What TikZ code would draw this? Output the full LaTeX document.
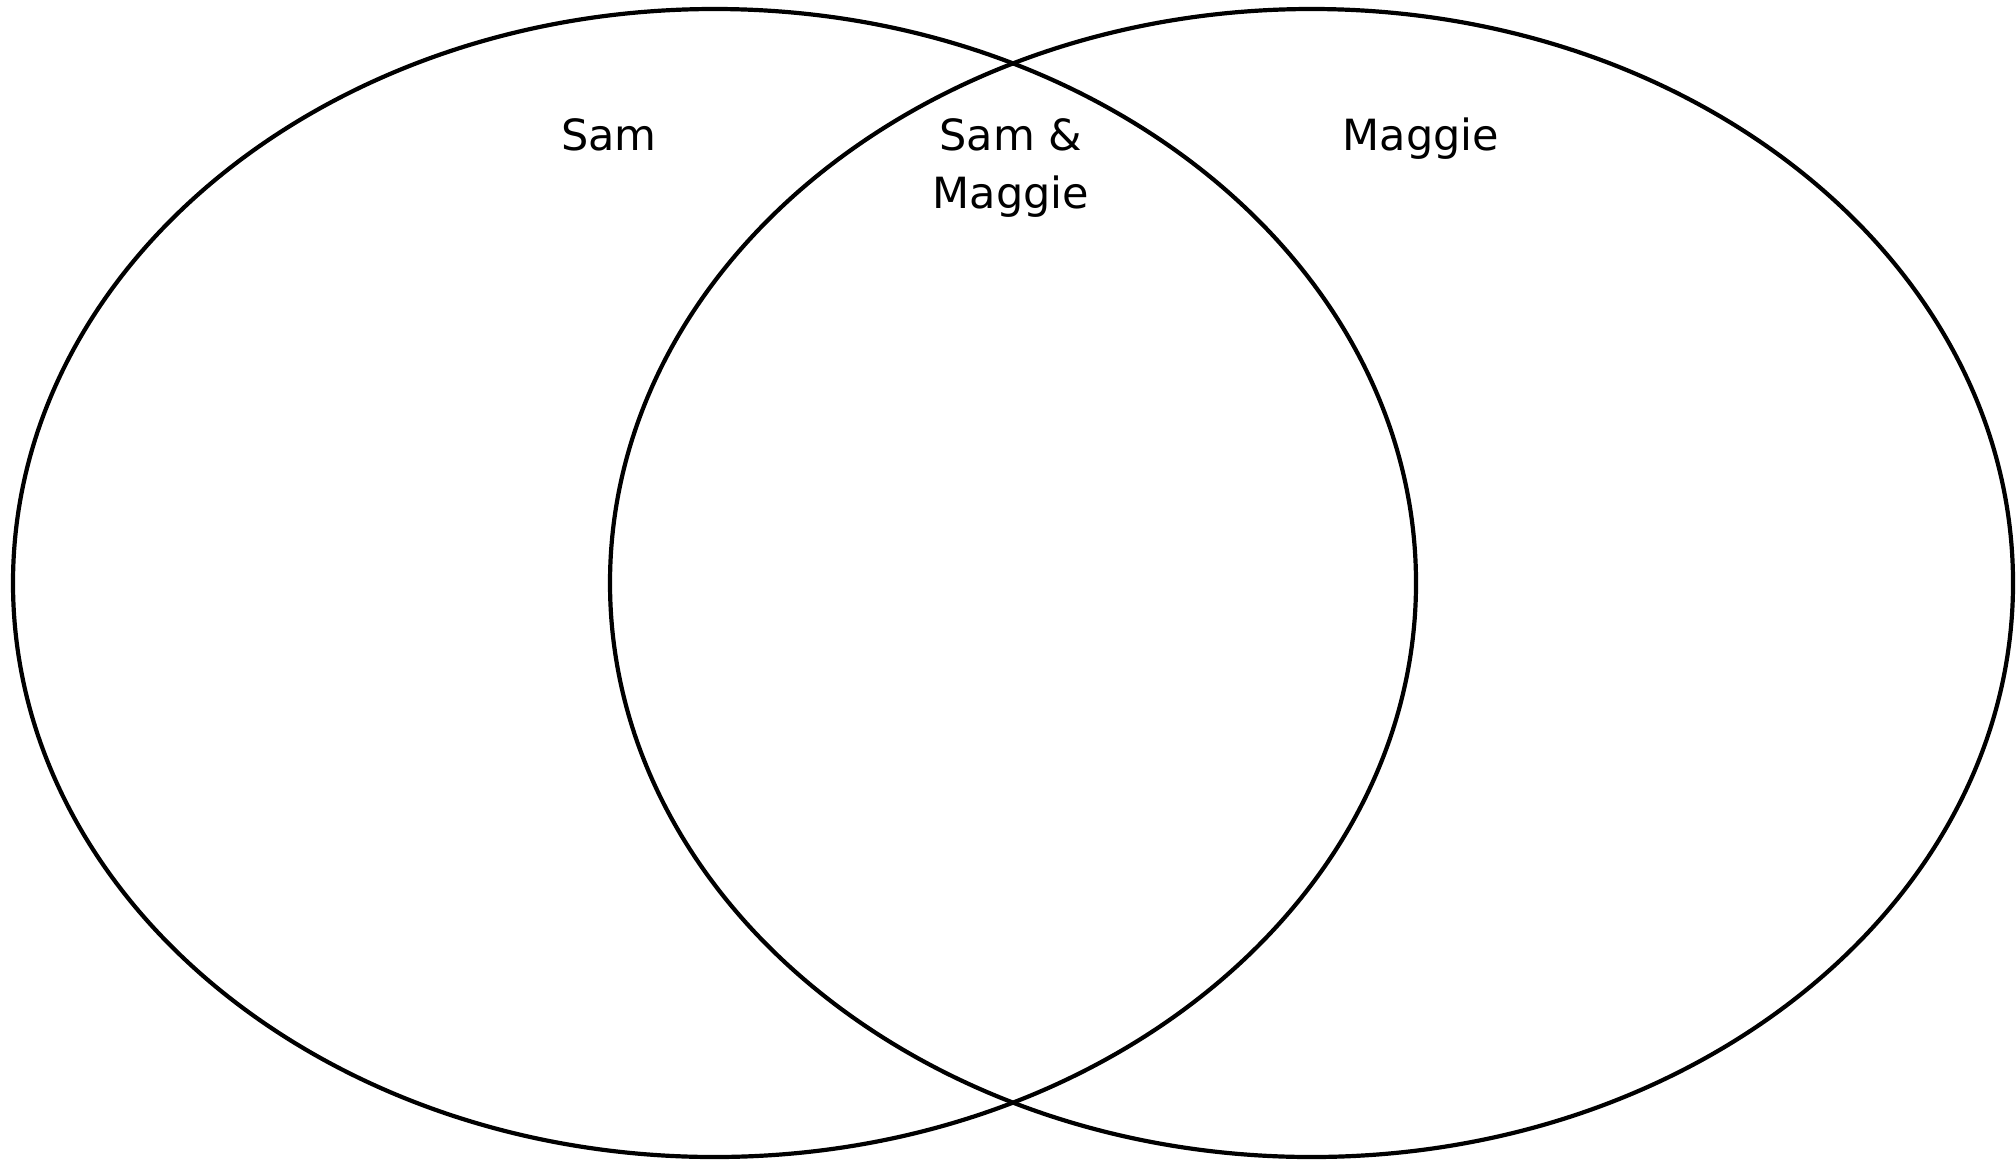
\documentclass[tikz,border=0pt]{standalone}
\usepackage{fontspec}
\setmainfont{DejaVu Sans}
\begin{document}
\begin{tikzpicture}[x=0.5pt,y=-0.5pt,
  ring/.style={draw=black,line width=2.1pt},
  lbl/.style={font=\fontsize{21.5}{29}\selectfont,align=center,anchor=base,inner sep=0pt}]
\useasboundingbox (0,0) rectangle (2016,1162);
\fill[white] (0,0) rectangle (2016,1162);
\draw[ring] (714.5,583) ellipse [x radius=701.5, y radius=574];
\draw[ring] (1311.5,583) ellipse [x radius=701.5, y radius=574];
\node[lbl] (sam) at (609,150) {Sam};
\node[lbl] (both) at (1011,208) {Sam \&\\Maggie};
\node[lbl] (maggie) at (1421,150) {Maggie};
\end{tikzpicture}
\end{document}
